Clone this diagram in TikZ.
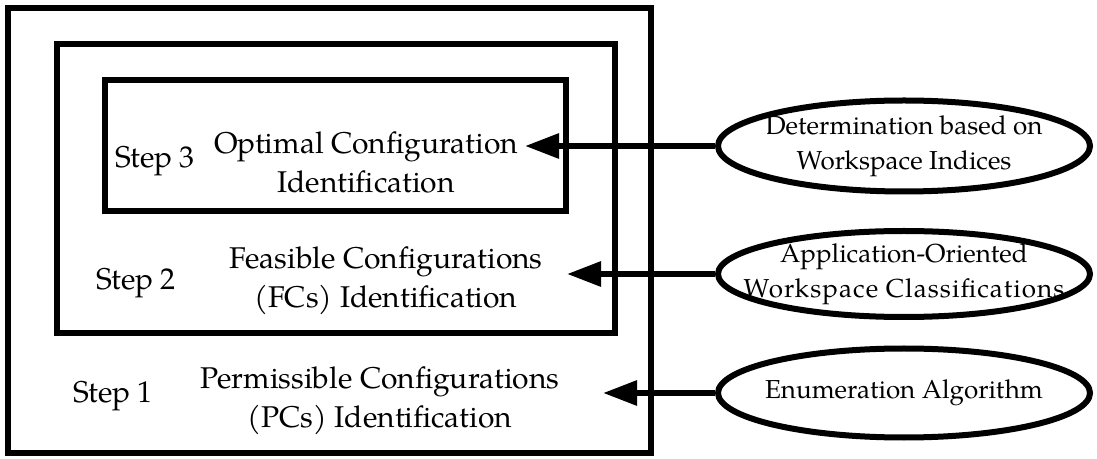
\documentclass[tikz,border=0pt]{standalone}
\usepackage{fontspec}
\setmainfont{TeX Gyre Pagella}
\usetikzlibrary{arrows.meta,shapes.geometric}
\begin{document}
\begin{tikzpicture}[x=0.5pt,y=-0.5pt,
  frame/.style={draw,line width=3pt},
  oval/.style={ellipse,draw,line width=3pt,minimum width=186pt,minimum height=45pt,inner xsep=-40pt,inner ysep=-8pt,align=center,font=\fontsize{13}{17.5}\selectfont},
  lbl/.style={inner sep=0pt,align=center,font=\fontsize{15}{19.5}\selectfont},
  conn/.style={line width=3pt,-{Triangle[length=17pt,width=12pt]}}]
\useasboundingbox (0,0) rectangle (1097,459);
% nested frames
\draw[frame] (8,8) rectangle (651,453);
\draw[frame] (57,44) rectangle (615,333);
\draw[frame] (105,80) rectangle (566,211);
% step labels
\node[lbl,anchor=base] (s3) at (155,168) {Step 3};
\node[lbl,anchor=north] (l3) at (366,131) {Optimal Configuration\\Identification};
\node[lbl,anchor=base] (s2) at (136,290) {Step 2};
\node[lbl,anchor=north] (l2) at (386,246) {Feasible Configurations\\(FCs) Identification};
\node[lbl,anchor=base] (s1) at (113,402) {Step 1};
\node[lbl,anchor=north] (l1) at (380,366) {Permissible Configurations\\(PCs) Identification};
% ellipses
\node[oval,minimum height=45.5pt] (e1) at (904,146) {Determination based on\\Workspace Indices};
\node[oval,minimum height=43pt] (e2) at (904,274) {Application-Oriented\\{\addfontfeature{LetterSpace=4}Workspace Classifications}};
\node[oval,minimum height=44.5pt] (e3) at (904,393) {Enumeration Algorithm};
% arrow tips
\coordinate (a1) at (525,146);
\coordinate (a2) at (567,274);
\coordinate (a3) at (603,393);
\draw[conn] (e1.west) -- (a1);
\draw[conn] (e2.west) -- (a2);
\draw[conn] (e3.west) -- (a3);
\end{tikzpicture}
\end{document}
